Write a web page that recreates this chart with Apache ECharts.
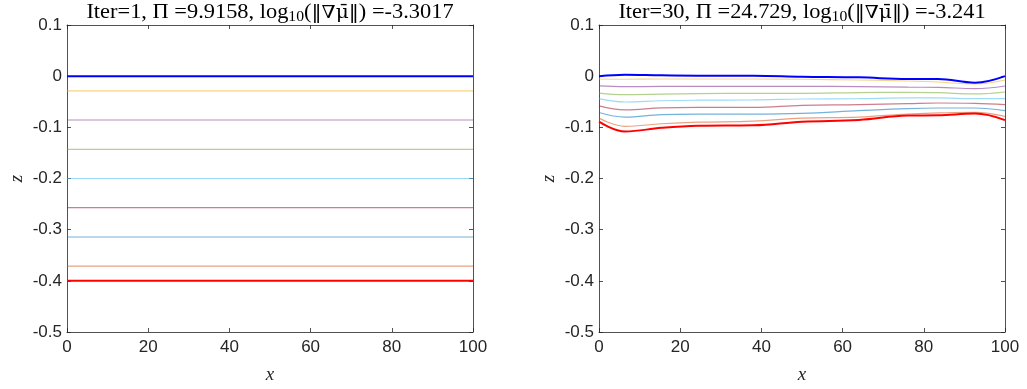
<!DOCTYPE html>
<html>
<head>
<meta charset="utf-8">
<script src="https://cdn.jsdelivr.net/npm/echarts@6/dist/echarts.min.js"></script>
<style>
  html, body { margin: 0; padding: 0; background: #fff; }
  #chart { width: 1027px; height: 389px; }
</style>
</head>
<body>
<div id="chart"></div>
<script>
// left panel: flat levels, Iter=1
const leftX = [0, 100];
const leftLevels = [0, -0.0286, -0.0857, -0.1429, -0.2, -0.2571, -0.3143, -0.3714, -0.4];

// right panel: Iter=30
const rightX = [0, 6.4, 15.4, 24.4, 38, 50, 64, 76, 83.5, 92.6, 100];
const rightBlue = [0.000, 0.003, 0.0016, 0.001, 0.001, -0.001, -0.0023, -0.0055, -0.0055, -0.0127, 0.0];
const rightYellow = [-0.0055, -0.006, -0.0055, -0.0055, -0.0055, -0.006, -0.0075, -0.0094, -0.0114, -0.0153, -0.0075];
const rightPurple = [-0.019, -0.0205, -0.020, -0.020, -0.020, -0.020, -0.0205, -0.0215, -0.0218, -0.0244, -0.0192];
const rightGreen = [-0.033, -0.036, -0.035, -0.034, -0.0335, -0.0335, -0.032, -0.0316, -0.0322, -0.0348, -0.0309];
const rightCyan = [-0.044, -0.0505, -0.048, -0.047, -0.0465, -0.0446, -0.0439, -0.0426, -0.0426, -0.0439, -0.0439];
const rightDarkRed = [-0.058, -0.066, -0.062, -0.061, -0.061, -0.057, -0.0557, -0.0537, -0.0524, -0.0531, -0.0557];
const rightBlue2 = [-0.071, -0.080, -0.075, -0.074, -0.074, -0.0726, -0.0674, -0.0634, -0.0622, -0.0622, -0.0674];
const rightOrange = [-0.082, -0.098, -0.093, -0.090, -0.088, -0.082, -0.080, -0.0739, -0.0719, -0.0706, -0.0785];
const rightRed = [-0.089, -0.108, -0.101, -0.097, -0.096, -0.089, -0.0856, -0.077, -0.0765, -0.0732, -0.086];

const midColors = ['#EDB120', '#7E2F8E', '#77AC30', '#4DBEEE', '#A2142F', '#0072BD', '#D95319'];
const xTicks = [0, 20, 40, 60, 80, 100];
const yTicks = [0.1, 0, -0.1, -0.2, -0.3, -0.4, -0.5];

// title pieces: text, log subscript, bracket, norm, value
const titleLeft = ['Iter=1, Π =9.9158, log', '10', '(', '‖∇μ̄‖', ') =-3.3017'];
const titleRight = ['Iter=30, Π =24.729, log', '10', '(', '‖∇μ̄‖', ') =-3.241'];

const axisColor = '#262626';
const serif = '"Liberation Serif", "DejaVu Serif", serif';
const sans = '"Liberation Sans", Arial, sans-serif';

const chart = echarts.init(document.getElementById('chart'), null, {renderer: 'canvas'});

function xAx(grid, pos) {
    const bottom = pos === 'bottom';
    return {
        type: 'value', gridIndex: grid, position: pos,
        min: xTicks[0], max: xTicks[xTicks.length - 1], interval: 20,
        axisLine: {show: true, onZero: false, lineStyle: {color: axisColor, width: 0.8}},
        axisTick: {show: true, inside: true, length: 4, lineStyle: {color: axisColor, width: 0.8}},
        axisLabel: {show: bottom, color: axisColor, fontSize: 17, fontFamily: sans, margin: 7},
        splitLine: {show: false},
        name: bottom ? 'x' : '', nameLocation: 'middle', nameGap: 33,
        nameTextStyle: {fontFamily: serif, fontStyle: 'italic', fontSize: 19, color: axisColor}
    };
}

function yAx(grid, pos) {
    const left = pos === 'left';
    return {
        type: 'value', gridIndex: grid, position: pos,
        min: yTicks[yTicks.length - 1], max: yTicks[0], interval: 0.1,
        axisLine: {show: true, onZero: false, lineStyle: {color: axisColor, width: 0.8}},
        axisTick: {show: true, inside: true, length: 4, lineStyle: {color: axisColor, width: 0.8}},
        axisLabel: {show: left, color: axisColor, fontSize: 17, fontFamily: sans, margin: 5,
            formatter: v => String(Number(v.toFixed(1)))},
        splitLine: {show: false},
        name: left ? 'z' : '', nameLocation: 'middle', nameGap: 41, nameRotate: 90,
        nameMoveOverlap: false,
        nameTextStyle: {fontFamily: serif, fontStyle: 'italic', fontSize: 19, color: axisColor}
    };
}

function lineSeries(grid, data, color, thick) {
    return {
        type: 'line', xAxisIndex: grid * 2, yAxisIndex: grid * 2,
        data: data, showSymbol: false, smooth: 0.4, silent: true,
        lineStyle: thick ? {color: color, width: 2} : {color: color, width: 1.2, opacity: 0.55},
        z: thick ? 3 : 2
    };
}

function titleOf(parts, cx) {
    return {
        type: 'text', x: cx, y: 13, scaleX: 1.12, silent: true,
        style: {
            text: '{a|' + parts[0] + '}{s|' + parts[1] + '}{a|' + parts[2] + '}{m|' + parts[3] + '}{a|' + parts[4] + '}',
            align: 'center', verticalAlign: 'middle',
            rich: {
                a: {fontFamily: serif, fontSize: 20, fill: '#000'},
                m: {fontFamily: '"DejaVu Serif", serif', fontSize: 18, fill: '#000'},
                s: {fontFamily: serif, fontSize: 14, fill: '#000', padding: [9, 0, 0, 0]}
            }
        }
    };
}

const series = [];
// left panel
leftLevels.forEach((lv, i) => {
    const pts = leftX.map(x => [x, lv]);
    if (i === 0) series.push(lineSeries(0, pts, '#0000FF', true));
    else if (i === leftLevels.length - 1) series.push(lineSeries(0, pts, '#FF0000', true));
    else series.push(lineSeries(0, pts, midColors[i - 1], false));
});
// right panel
const rightMid = [rightYellow, rightPurple, rightGreen, rightCyan, rightDarkRed, rightBlue2, rightOrange];
rightMid.forEach((arr, i) => {
    series.push(lineSeries(1, rightX.map((x, j) => [x, arr[j]]), midColors[i], false));
});
series.push(lineSeries(1, rightX.map((x, j) => [x, rightBlue[j]]), '#0000FF', true));
series.push(lineSeries(1, rightX.map((x, j) => [x, rightRed[j]]), '#FF0000', true));

const option = {
    animation: false,
    backgroundColor: '#fff',
    graphic: [titleOf(titleLeft, 270), titleOf(titleRight, 802)],
    grid: [
        {left: 67, top: 25, width: 406, height: 308, show: false},
        {left: 599, top: 25, width: 406, height: 308, show: false}
    ],
    xAxis: [xAx(0, 'bottom'), xAx(0, 'top'), xAx(1, 'bottom'), xAx(1, 'top')],
    yAxis: [yAx(0, 'left'), yAx(0, 'right'), yAx(1, 'left'), yAx(1, 'right')],
    series: series
};

chart.setOption(option);
</script>
</body>
</html>
